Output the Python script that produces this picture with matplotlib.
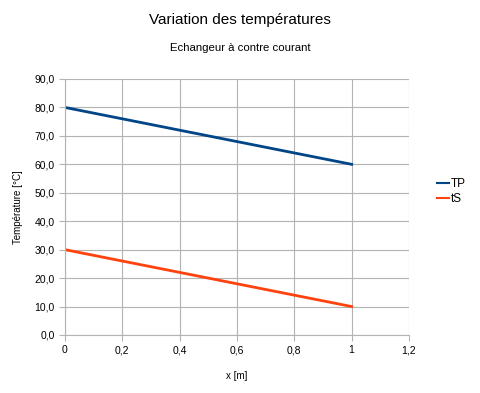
import matplotlib.pyplot as plt
from matplotlib.ticker import FuncFormatter

x = [0, 1]
tp = [80.0, 60.0]
ts = [30.0, 10.0]

plt.rcParams['font.family'] = ['Liberation Sans', 'DejaVu Sans']

fig = plt.figure(figsize=(4.8, 3.93), dpi=100)
ax = fig.add_axes([0.1354, 0.1476, 0.7166, 0.6514])

ax.plot(x, tp, color='#004586', lw=2, label='TP')
ax.plot(x, ts, color='#ff420e', lw=2, label='tS')

ax.set_xlim(0, 1.2)
ax.set_ylim(0, 90)
ax.set_xticks([0, 0.2, 0.4, 0.6, 0.8, 1, 1.2])
ax.set_yticks(range(0, 91, 10))
ax.xaxis.set_major_formatter(FuncFormatter(lambda v, p: ('%g' % round(v, 1)).replace('.', ',')))
ax.yaxis.set_major_formatter(FuncFormatter(lambda v, p: ('%.1f' % v).replace('.', ',')))
ax.tick_params(labelsize=7.5, colors='#b3b3b3', labelcolor='black', length=4, width=0.8)
ax.grid(True, color='#b3b3b3', lw=0.8)
ax.set_axisbelow(True)
for s in ax.spines.values():
    s.set_visible(False)
ax.spines['left'].set_visible(True)
ax.spines['bottom'].set_visible(True)
ax.spines['left'].set_color('#b3b3b3')
ax.spines['bottom'].set_color('#b3b3b3')
ax.spines['left'].set_linewidth(0.8)
ax.spines['bottom'].set_linewidth(0.8)

ax.set_xlabel('x [m]', fontsize=7, labelpad=11)
ax.set_ylabel('Température [°C]', fontsize=7, labelpad=8)

fig.text(0.5, 0.948, 'Variation des températures', ha='center', va='center', fontsize=11)
fig.text(0.5, 0.878, 'Echangeur à contre courant', ha='center', va='center', fontsize=8.2)

leg = ax.legend(loc='center left', bbox_to_anchor=(1.05, 0.56), frameon=False, fontsize=8.5,
                handlelength=1.0, handletextpad=0.2, labelspacing=0.25)
for h in leg.get_lines():
    h.set_linewidth(1.5)

fig.savefig('out.png', dpi=100)
